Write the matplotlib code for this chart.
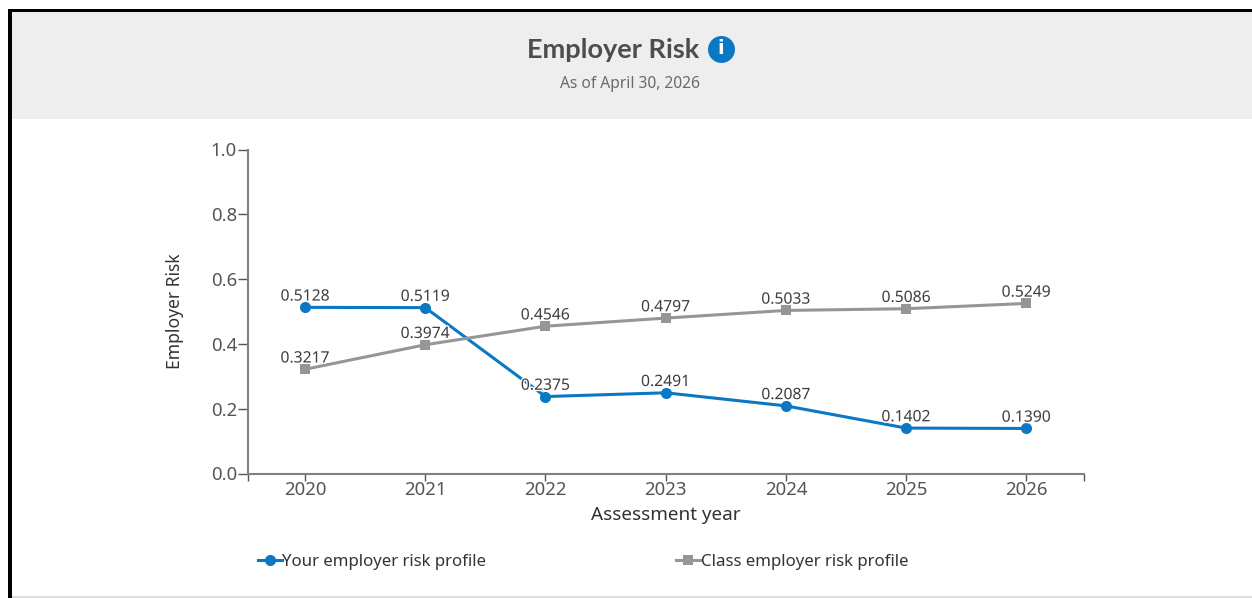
import matplotlib
matplotlib.use('Agg')
import matplotlib.pyplot as plt
import matplotlib.patheffects as pe
from matplotlib.patches import Rectangle

years = ['2020', '2021', '2022', '2023', '2024', '2025', '2026']
your_risk = [0.5128, 0.5119, 0.2375, 0.2491, 0.2087, 0.1402, 0.1390]
class_risk = [0.3217, 0.3974, 0.4546, 0.4797, 0.5033, 0.5086, 0.5249]
y_ticks = [0.0, 0.2, 0.4, 0.6, 0.8, 1.0]

W, H = 1252, 598
BLUE = '#0a78c2'
GREY = '#969696'
TEXT = '#3d3d3d'

plt.rcParams['font.family'] = ['Noto Sans', 'DejaVu Sans']

fig = plt.figure(figsize=(W / 100, H / 100), dpi=100, facecolor='white')


def px_rect(x0, y0, x1, y1, color):
    # rectangle given in pixels from the top left corner
    fig.add_artist(Rectangle((x0 / W, 1 - y1 / H), (x1 - x0) / W, (y1 - y0) / H,
                             transform=fig.transFigure, facecolor=color,
                             edgecolor='none'))


# page frame and header band
px_rect(12, 12, W, 119, '#eeeeee')
px_rect(8, 9, W, 12, 'black')
px_rect(8, 9, 12, H, 'black')
px_rect(12, 596, W, 598, '#dddddd')

fig.text(613 / W, 1 - 50.5 / H, 'Employer Risk', ha='center', va='center',
         fontsize=19.5, fontweight='bold', family='Lato', color='#4d4d4d')
fig.text(630 / W, 1 - 84 / H, 'As of April 30, 2026', ha='center', va='center',
         fontsize=11.2, color='#6b6b6b')

# info icon next to the title
ix, iy = 721, 49
fig.add_artist(plt.Line2D([ix / W], [1 - iy / H], marker='o', markersize=19.4,
                          color=BLUE, markeredgewidth=0,
                          transform=fig.transFigure))
fig.text(ix / W, 1 - (iy - 0.5) / H, 'i', ha='center', va='center', fontsize=14,
         fontweight='bold', family='DejaVu Sans', color='white')

ax = fig.add_axes([248 / W, 1 - 473.5 / H, (1084 - 248) / W, 324 / H])
x = list(range(len(years)))

ax.plot(x, your_risk, color=BLUE, lw=2.2, marker='o', ms=8, mew=0, zorder=3,
        label='Your employer risk profile')
ax.plot(x, class_risk, color=GREY, lw=2.2, marker='s', ms=7.5, mew=0, zorder=3,
        label='Class employer risk profile')

halo = [pe.withStroke(linewidth=2, foreground='white')]
for series in (your_risk, class_risk):
    for i, v in enumerate(series):
        ax.annotate('%.4f' % v, (i, v), xytext=(0, 2), textcoords='offset points',
                    ha='center', va='bottom', fontsize=11.3, color=TEXT,
                    path_effects=halo, zorder=4)

ax.set_xlim(-0.475, 6.48)
ax.set_ylim(0, 1)
ax.set_xticks(x)
ax.set_xticklabels(years)
ax.set_xticks([-0.475, 6.48], minor=True)
ax.set_yticks(y_ticks)
ax.set_yticklabels(['%.1f' % t for t in y_ticks])
ax.tick_params(axis='both', which='major', labelsize=13.4, labelcolor='#555555',
               color='#555555', length=5, width=1, pad=0.5)
ax.tick_params(axis='y', length=7, pad=1)
ax.tick_params(axis='x', which='minor', color='#555555', length=5, width=1)

for side in ('top', 'right'):
    ax.spines[side].set_visible(False)
for side in ('left', 'bottom'):
    ax.spines[side].set_color('#808080')
    ax.spines[side].set_linewidth(1.5)

ax.set_xlabel('Assessment year', fontsize=13.6, color='#333333', labelpad=5)
ax.set_ylabel('Employer Risk', fontsize=12.6, color='#333333', labelpad=19)

fig.legend(loc='center left', bbox_to_anchor=(258 / W, 1 - 562 / H), ncols=2,
           frameon=False, fontsize=12.1, labelcolor='#333333', handlelength=1.45,
           handletextpad=0.0, columnspacing=11.3, borderpad=0, borderaxespad=0)

fig.savefig('out.png', dpi=100)
